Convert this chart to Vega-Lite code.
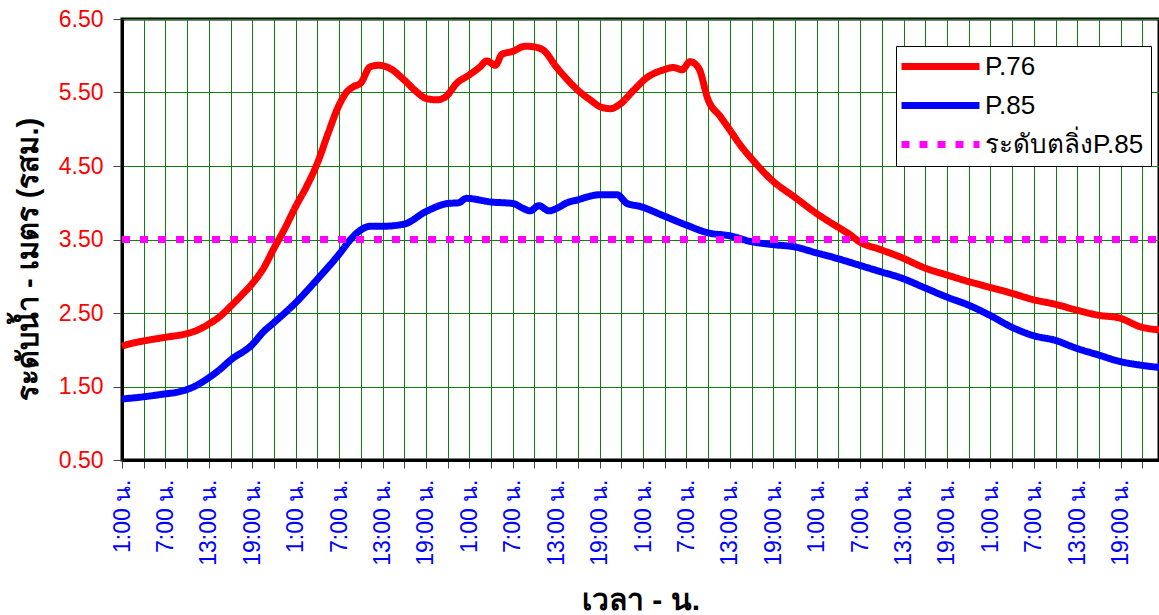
{
  "$schema": "https://vega.github.io/schema/vega-lite/v6.json",
  "width": 1037,
  "height": 441,
  "autosize": "none",
  "padding": {"left": 122, "top": 19, "right": 0, "bottom": 155},
  "background": "white",
  "config": {
    "font": "Liberation Sans",
    "view": {"stroke": "black", "strokeWidth": 3}
  },
  "data": {
    "values": [
      {"hour": 0, "level": 2.05, "series": "P.76"},
      {"hour": 1.5, "level": 2.09, "series": "P.76"},
      {"hour": 3, "level": 2.12, "series": "P.76"},
      {"hour": 6, "level": 2.17, "series": "P.76"},
      {"hour": 9, "level": 2.22, "series": "P.76"},
      {"hour": 10.5, "level": 2.27, "series": "P.76"},
      {"hour": 12, "level": 2.35, "series": "P.76"},
      {"hour": 13.5, "level": 2.45, "series": "P.76"},
      {"hour": 15, "level": 2.59, "series": "P.76"},
      {"hour": 16.5, "level": 2.74, "series": "P.76"},
      {"hour": 18, "level": 2.9, "series": "P.76"},
      {"hour": 19.5, "level": 3.1, "series": "P.76"},
      {"hour": 21, "level": 3.38, "series": "P.76"},
      {"hour": 22.5, "level": 3.65, "series": "P.76"},
      {"hour": 24, "level": 3.95, "series": "P.76"},
      {"hour": 25.5, "level": 4.22, "series": "P.76"},
      {"hour": 27, "level": 4.54, "series": "P.76"},
      {"hour": 28.5, "level": 4.95, "series": "P.76"},
      {"hour": 30, "level": 5.33, "series": "P.76"},
      {"hour": 31, "level": 5.5, "series": "P.76"},
      {"hour": 32, "level": 5.58, "series": "P.76"},
      {"hour": 33, "level": 5.63, "series": "P.76"},
      {"hour": 34.3, "level": 5.85, "series": "P.76"},
      {"hour": 35.5, "level": 5.87, "series": "P.76"},
      {"hour": 37, "level": 5.83, "series": "P.76"},
      {"hour": 39, "level": 5.67, "series": "P.76"},
      {"hour": 40.7, "level": 5.51, "series": "P.76"},
      {"hour": 42, "level": 5.42, "series": "P.76"},
      {"hour": 43.5, "level": 5.4, "series": "P.76"},
      {"hour": 44.7, "level": 5.44, "series": "P.76"},
      {"hour": 46.3, "level": 5.63, "series": "P.76"},
      {"hour": 48, "level": 5.74, "series": "P.76"},
      {"hour": 49.5, "level": 5.85, "series": "P.76"},
      {"hour": 50.4, "level": 5.93, "series": "P.76"},
      {"hour": 51.6, "level": 5.87, "series": "P.76"},
      {"hour": 52.5, "level": 6.02, "series": "P.76"},
      {"hour": 54, "level": 6.06, "series": "P.76"},
      {"hour": 55.7, "level": 6.13, "series": "P.76"},
      {"hour": 57, "level": 6.12, "series": "P.76"},
      {"hour": 58.3, "level": 6.07, "series": "P.76"},
      {"hour": 60, "level": 5.85, "series": "P.76"},
      {"hour": 61.5, "level": 5.68, "series": "P.76"},
      {"hour": 63, "level": 5.53, "series": "P.76"},
      {"hour": 64.7, "level": 5.4, "series": "P.76"},
      {"hour": 66, "level": 5.31, "series": "P.76"},
      {"hour": 67.5, "level": 5.28, "series": "P.76"},
      {"hour": 68.8, "level": 5.34, "series": "P.76"},
      {"hour": 70.7, "level": 5.53, "series": "P.76"},
      {"hour": 72.5, "level": 5.7, "series": "P.76"},
      {"hour": 74.9, "level": 5.81, "series": "P.76"},
      {"hour": 76.2, "level": 5.84, "series": "P.76"},
      {"hour": 77.4, "level": 5.81, "series": "P.76"},
      {"hour": 78.5, "level": 5.92, "series": "P.76"},
      {"hour": 79.7, "level": 5.83, "series": "P.76"},
      {"hour": 81, "level": 5.4, "series": "P.76"},
      {"hour": 82.7, "level": 5.17, "series": "P.76"},
      {"hour": 84, "level": 4.99, "series": "P.76"},
      {"hour": 85.4, "level": 4.79, "series": "P.76"},
      {"hour": 87, "level": 4.6, "series": "P.76"},
      {"hour": 90, "level": 4.29, "series": "P.76"},
      {"hour": 92.9, "level": 4.08, "series": "P.76"},
      {"hour": 95.9, "level": 3.86, "series": "P.76"},
      {"hour": 98.9, "level": 3.67, "series": "P.76"},
      {"hour": 100.4, "level": 3.58, "series": "P.76"},
      {"hour": 101.9, "level": 3.47, "series": "P.76"},
      {"hour": 104.9, "level": 3.36, "series": "P.76"},
      {"hour": 107.6, "level": 3.26, "series": "P.76"},
      {"hour": 111, "level": 3.11, "series": "P.76"},
      {"hour": 113.9, "level": 3.02, "series": "P.76"},
      {"hour": 116.9, "level": 2.93, "series": "P.76"},
      {"hour": 119.9, "level": 2.85, "series": "P.76"},
      {"hour": 122.9, "level": 2.77, "series": "P.76"},
      {"hour": 126, "level": 2.68, "series": "P.76"},
      {"hour": 128.9, "level": 2.62, "series": "P.76"},
      {"hour": 131.9, "level": 2.54, "series": "P.76"},
      {"hour": 134.9, "level": 2.47, "series": "P.76"},
      {"hour": 137.9, "level": 2.43, "series": "P.76"},
      {"hour": 140.8, "level": 2.31, "series": "P.76"},
      {"hour": 143.3, "level": 2.27, "series": "P.76"},
      {"hour": 0, "level": 1.33, "series": "P.85"},
      {"hour": 3, "level": 1.36, "series": "P.85"},
      {"hour": 6, "level": 1.4, "series": "P.85"},
      {"hour": 7.5, "level": 1.42, "series": "P.85"},
      {"hour": 9, "level": 1.46, "series": "P.85"},
      {"hour": 10, "level": 1.5, "series": "P.85"},
      {"hour": 12, "level": 1.62, "series": "P.85"},
      {"hour": 13.5, "level": 1.73, "series": "P.85"},
      {"hour": 15, "level": 1.86, "series": "P.85"},
      {"hour": 18, "level": 2.07, "series": "P.85"},
      {"hour": 19.5, "level": 2.24, "series": "P.85"},
      {"hour": 21, "level": 2.37, "series": "P.85"},
      {"hour": 24, "level": 2.64, "series": "P.85"},
      {"hour": 27, "level": 2.96, "series": "P.85"},
      {"hour": 30, "level": 3.3, "series": "P.85"},
      {"hour": 31.5, "level": 3.49, "series": "P.85"},
      {"hour": 33, "level": 3.63, "series": "P.85"},
      {"hour": 34.3, "level": 3.68, "series": "P.85"},
      {"hour": 36, "level": 3.68, "series": "P.85"},
      {"hour": 39, "level": 3.71, "series": "P.85"},
      {"hour": 42, "level": 3.88, "series": "P.85"},
      {"hour": 45, "level": 3.99, "series": "P.85"},
      {"hour": 46.5, "level": 4.0, "series": "P.85"},
      {"hour": 47.6, "level": 4.06, "series": "P.85"},
      {"hour": 51, "level": 4.01, "series": "P.85"},
      {"hour": 54, "level": 3.99, "series": "P.85"},
      {"hour": 55.5, "level": 3.92, "series": "P.85"},
      {"hour": 56.4, "level": 3.89, "series": "P.85"},
      {"hour": 57.6, "level": 3.96, "series": "P.85"},
      {"hour": 59, "level": 3.89, "series": "P.85"},
      {"hour": 60, "level": 3.92, "series": "P.85"},
      {"hour": 61.5, "level": 4.0, "series": "P.85"},
      {"hour": 63, "level": 4.04, "series": "P.85"},
      {"hour": 64.7, "level": 4.09, "series": "P.85"},
      {"hour": 66, "level": 4.11, "series": "P.85"},
      {"hour": 68.4, "level": 4.11, "series": "P.85"},
      {"hour": 69.8, "level": 3.99, "series": "P.85"},
      {"hour": 71.6, "level": 3.95, "series": "P.85"},
      {"hour": 74.9, "level": 3.82, "series": "P.85"},
      {"hour": 77.9, "level": 3.7, "series": "P.85"},
      {"hour": 81, "level": 3.59, "series": "P.85"},
      {"hour": 84, "level": 3.55, "series": "P.85"},
      {"hour": 87, "level": 3.47, "series": "P.85"},
      {"hour": 90, "level": 3.43, "series": "P.85"},
      {"hour": 92.9, "level": 3.4, "series": "P.85"},
      {"hour": 95.9, "level": 3.32, "series": "P.85"},
      {"hour": 98.9, "level": 3.24, "series": "P.85"},
      {"hour": 101.9, "level": 3.15, "series": "P.85"},
      {"hour": 104.9, "level": 3.06, "series": "P.85"},
      {"hour": 107.6, "level": 2.98, "series": "P.85"},
      {"hour": 111, "level": 2.84, "series": "P.85"},
      {"hour": 113.9, "level": 2.72, "series": "P.85"},
      {"hour": 116.9, "level": 2.61, "series": "P.85"},
      {"hour": 119.9, "level": 2.47, "series": "P.85"},
      {"hour": 122.9, "level": 2.31, "series": "P.85"},
      {"hour": 126, "level": 2.19, "series": "P.85"},
      {"hour": 128.9, "level": 2.13, "series": "P.85"},
      {"hour": 131.9, "level": 2.02, "series": "P.85"},
      {"hour": 134.9, "level": 1.93, "series": "P.85"},
      {"hour": 137.9, "level": 1.84, "series": "P.85"},
      {"hour": 140.8, "level": 1.79, "series": "P.85"},
      {"hour": 143.3, "level": 1.76, "series": "P.85"},
      {"hour": 0, "level": 3.5, "series": "ระดับตลิ่งP.85"},
      {"hour": 143.3, "level": 3.5, "series": "ระดับตลิ่งP.85"}
    ]
  },
  "mark": {"type": "line", "strokeWidth": 7, "interpolate": "monotone", "strokeCap": "butt", "strokeJoin": "round"},
  "encoding": {
    "x": {
      "field": "hour",
      "type": "quantitative",
      "scale": {"domain": [0, 143.3], "nice": false, "zero": false},
      "axis": {
        "title": "เวลา - น.",
        "titleFontSize": 30,
        "titleFontWeight": "bold",
        "titleColor": "black",
        "titlePadding": 20,
        "values": [0,3,6,9,12,15,18,21,24,27,30,33,36,39,42,45,48,51,54,57,60,63,66,69,72,75,78,81,84,87,90,93,96,99,102,105,108,111,114,117,120,123,126,129,132,135,138,141],
        "labelExpr": "datum.value % 6 == 0 ? ((datum.value + 1) % 24) + ':00 น.' : ''",
        "labelAngle": 270,
        "labelAlign": "right",
        "labelBaseline": "middle",
        "labelColor": "#0000ff",
        "labelFontSize": 23,
        "labelPadding": 11,
        "labelFlush": false,
        "labelOverlap": false,
        "tickSize": 8,
        "tickColor": "#444444",
        "grid": true,
        "gridColor": "#108010",
        "gridWidth": 1,
        "domainColor": "black",
        "domainWidth": 3
      }
    },
    "y": {
      "field": "level",
      "type": "quantitative",
      "scale": {"domain": [0.5, 6.5], "nice": false, "zero": false},
      "axis": {
        "title": "ระดับน้ำ - เมตร (รสม.)",
        "titleFontSize": 29,
        "titleFontWeight": "bold",
        "titleColor": "black",
        "titlePadding": 15,
        "titleY": 240,
        "values": [0.5, 1.5, 2.5, 3.5, 4.5, 5.5, 6.5],
        "format": ".2f",
        "labelColor": "#ff0000",
        "labelFontSize": 23,
        "labelPadding": 10,
        "labelFlush": false,
        "tickSize": 9,
        "tickColor": "#444444",
        "grid": true,
        "gridColor": "#108010",
        "gridWidth": 1,
        "domainColor": "black",
        "domainWidth": 3
      }
    },
    "color": {
      "field": "series",
      "type": "nominal",
      "scale": {"domain": ["P.76", "P.85", "ระดับตลิ่งP.85"], "range": ["#ff0000", "#0000ff", "#ff00ff"]},
      "legend": {
        "title": null,
        "orient": "none",
        "legendX": 774,
        "legendY": 27,
        "fillColor": "white",
        "strokeColor": "black",
        "padding": 7,
        "symbolType": "M-1.5,0H6.3",
        "symbolSize": 400,
        "symbolStrokeWidth": 7,
        "labelFontSize": 26,
        "labelColor": "black",
        "labelOffset": 55,
        "rowPadding": 10,
        "labelLimit": 400,
        "encode": {
          "symbols": {
            "update": {
              "strokeDash": {"signal": "datum.value === 'ระดับตลิ่งP.85' ? [10, 20] : [1, 0]"}
            }
          }
        }
      }
    },
    "strokeDash": {
      "field": "series",
      "type": "nominal",
      "scale": {"domain": ["P.76", "P.85", "ระดับตลิ่งP.85"], "range": [[1, 0], [1, 0], [8, 10]]},
      "legend": null
    },
    "strokeWidth": {
      "field": "series",
      "type": "nominal",
      "scale": {"domain": ["P.76", "P.85", "ระดับตลิ่งP.85"], "range": [7, 7, 6]},
      "legend": null
    }
  }
}
